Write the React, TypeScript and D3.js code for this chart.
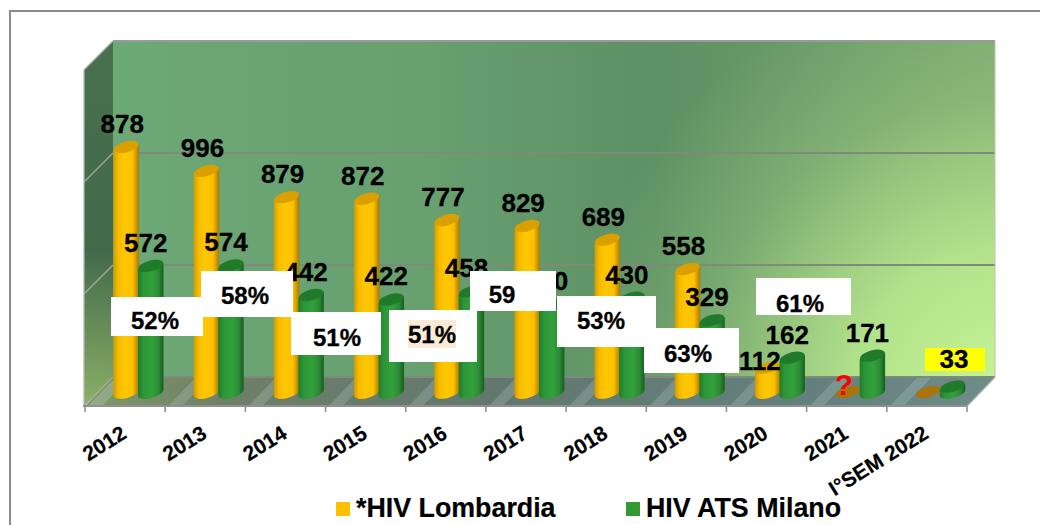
import React from "react";
import * as d3 from "d3";

const categories = ["2012","2013","2014","2015","2016","2017","2018","2019","2020","2021","I°SEM 2022"];
const lombardiaHeights = [1103,996,879,872,777,750,689,558,118,9,9];
const milanoHeights = [572,574,442,422,458,400,430,329,162,171,33];
const lombardiaLabels = ["878","996","879","872","777","829","689","558","112","",""];
const milanoLabels = ["572","574","442","422","458","490","430","329","162","171",""];
const yTicks = [0,500,1000,1500];
const seriesNames = ["*HIV Lombardia","HIV ATS Milano"];
const pctNotes = [
  {t:"52%",x:111,y:297,w:92,h:39},
  {t:"58%",x:201,y:271,w:92,h:46},
  {t:"51%",x:291,y:312,w:90,h:43},
  {t:"51%",x:389,y:310,w:88,h:52,hl:true},
  {t:"59",x:470,y:271,w:86,h:40},
  {t:"53%",x:557,y:296,w:99,h:51},
  {t:"63%",x:644,y:328,w:95,h:45},
  {t:"61%",x:756,y:278,w:95,h:37},
];

const FONT = "'Liberation Sans', Arial, sans-serif";
const depth = { x: 28, y: -29 };
const x = d3.scaleBand<string>().domain(categories).range([85, 967]);
const inner = d3.scaleBand<string>().domain(seriesNames).range([29, 78]);
const y = d3.scaleLinear().domain([0, 1500]).range([394, 58]);
const wallY = d3.scaleLinear().domain([0, 1500]).range([377, 41]);
const colors = [
  { grad: "url(#yel)", top: "#d9a000", flat: "#a8750a" },
  { grad: "url(#grn)", top: "#1f7a2a", flat: "#1f7a2a" },
];
const rx = 12.7, ry = 5.4, tilt = 3.2;

function Cyl({ cx, v, s }: { cx: number; v: number; s: number }) {
  const t = y(v), b = y(0) - 1.5;
  const c = colors[s];
  const rot = -15;
  if (s === 0 && v < 20) {
    return <ellipse cx={cx} cy={t} rx={rx} ry={ry} fill={c.flat} transform={`rotate(${rot} ${cx} ${t})`} />;
  }
  const d = `M${cx - rx},${t + tilt} L${cx - rx},${b + tilt} A${rx},${ry} ${rot} 0 0 ${cx + rx},${b - tilt} L${cx + rx},${t - tilt} Z`;
  return (
    <g>
      <path d={d} fill={c.grad} />
      <ellipse cx={cx} cy={t} rx={rx} ry={ry} fill={c.top} transform={`rotate(${rot} ${cx} ${t})`} />
    </g>
  );
}

export default function App() {
  const x0 = x.range()[0], x1 = x.range()[1];
  const floorTop = wallY(0), floorBot = floorTop - depth.y;
  const backL = x0 + depth.x, backR = x1 + depth.x;
  const labelStyle = { fontFamily: FONT, fontWeight: 700, fontSize: 26, fill: "#000", stroke: "#000", strokeWidth: 0.3, textAnchor: "middle" as const };
  const legendStyle = { fontFamily: FONT, fontWeight: 700, fontSize: 26.8, fill: "#000", stroke: "#000", strokeWidth: 0.2 };
  return (
    <svg width={1040} height={525} style={{ position: "absolute", left: 0, top: 0, background: "#fff" }}>
      <defs>
        <linearGradient id="wall" gradientUnits="userSpaceOnUse" x1={backL} y1={0} x2={backR} y2={0}>
          <stop offset="0" stopColor="#6da877" />
          <stop offset="0.35" stopColor="#68a070" />
          <stop offset="0.62" stopColor="#5d9064" />
          <stop offset="1" stopColor="#7aa76f" />
        </linearGradient>
        <radialGradient id="glow" gradientUnits="userSpaceOnUse" cx={1000} cy={400} r={430}>
          <stop offset="0" stopColor="#c6f695" stopOpacity={1} />
          <stop offset="0.35" stopColor="#c6f695" stopOpacity={0.75} />
          <stop offset="0.7" stopColor="#c6f695" stopOpacity={0.22} />
          <stop offset="1" stopColor="#c6f695" stopOpacity={0} />
        </radialGradient>
        <linearGradient id="lwall" gradientUnits="userSpaceOnUse" x1={113} y1={60} x2={84} y2={406}>
          <stop offset="0" stopColor="#47704f" />
          <stop offset="0.55" stopColor="#426a4a" />
          <stop offset="1" stopColor="#8bb068" />
        </linearGradient>
        <linearGradient id="floor" gradientUnits="userSpaceOnUse" x1={85} y1={0} x2={996} y2={0}>
          <stop offset="0" stopColor="#7f9a68" />
          <stop offset="0.15" stopColor="#6f8068" />
          <stop offset="0.45" stopColor="#62786f" />
          <stop offset="0.8" stopColor="#64807e" />
          <stop offset="1" stopColor="#6e8c88" />
        </linearGradient>
        <linearGradient id="yel" x1="0" y1="0" x2="1" y2="0">
          <stop offset="0" stopColor="#d39a00" />
          <stop offset="0.18" stopColor="#f5bb00" />
          <stop offset="0.45" stopColor="#ffc800" />
          <stop offset="0.75" stopColor="#ffc000" />
          <stop offset="1" stopColor="#a87a00" />
        </linearGradient>
        <linearGradient id="grn" x1="0" y1="0" x2="1" y2="0">
          <stop offset="0" stopColor="#1f7c2a" />
          <stop offset="0.2" stopColor="#2c9636" />
          <stop offset="0.55" stopColor="#33a03c" />
          <stop offset="0.8" stopColor="#2a8c33" />
          <stop offset="1" stopColor="#175c20" />
        </linearGradient>
      </defs>

      <rect x={10} y={11} width={1200} height={700} fill="#fff" stroke="#8c8c8c" strokeWidth={2} />

      {/* back wall, side wall, floor */}
      <rect x={backL} y={wallY(1500)} width={backR - backL} height={floorTop - wallY(1500)} fill="url(#wall)" />
      <rect x={backL} y={wallY(1500)} width={backR - backL} height={floorTop - wallY(1500)} fill="url(#glow)" />
      <polygon points={`${x0 - 1},${wallY(1500) - depth.y} ${backL},${wallY(1500)} ${backL},${floorTop} ${x0 - 1},${floorBot}`} fill="url(#lwall)" />
      <polygon points={`${x0},${floorBot} ${backL},${floorTop} ${backR},${floorTop} ${x1},${floorBot}`} fill="url(#floor)" />
      {categories.map((c, i) => {
        const sx = x(c)! + 3;
        return <polygon key={c} points={`${sx},${floorBot} ${sx + depth.x},${floorTop} ${sx + depth.x + 14},${floorTop} ${sx + 14},${floorBot}`}
          fill="#c0d4d0" opacity={i === 0 ? 0.3 : 0.24} />;
      })}

      {/* grid */}
      {yTicks.map((t) => (
        <g key={t}>
          <line x1={backL} x2={backR} y1={wallY(t)} y2={wallY(t)} stroke={t === 1500 ? "#9a9a9a" : "#7f8a7a"} strokeWidth={2} />
          <line x1={x0 - 1} y1={wallY(t) - depth.y} x2={backL} y2={wallY(t)} stroke="#a4aca0" strokeWidth={1.3} />
        </g>
      ))}
      <line x1={x1} y1={floorBot} x2={backR} y2={floorTop} stroke="#a0a8a0" strokeWidth={1.3} />
      <line x1={x0 - 1} y1={wallY(1500) - depth.y} x2={x0 - 1} y2={floorBot} stroke="#b0b8b0" strokeWidth={1.3} />
      <line x1={backR} y1={wallY(1500)} x2={backR} y2={floorTop} stroke="#b8c8a8" strokeWidth={1} />

      {/* axis */}
      <line x1={x0 - 2} x2={x1} y1={floorBot} y2={floorBot} stroke="#909090" strokeWidth={2} />
      {[...categories.map((c) => x(c)!), x1].map((p) => (
        <line key={p} x1={p} x2={p} y1={floorBot} y2={floorBot + 6} stroke="#909090" strokeWidth={1.6} />
      ))}

      {/* bars */}
      {categories.map((c, i) => (
        <g key={c}>
          <Cyl cx={x(c)! + inner.bandwidth() * 0.5 + inner(seriesNames[0])!} v={lombardiaHeights[i]} s={0} />
          <Cyl cx={x(c)! + inner.bandwidth() * 0.5 + inner(seriesNames[1])!} v={milanoHeights[i]} s={1} />
        </g>
      ))}

      {/* value labels */}
      {categories.map((c, i) => {
        const cxA = x(c)! + inner.bandwidth() * 0.5 + inner(seriesNames[0])!;
        const cxB = x(c)! + inner.bandwidth() * 0.5 + inner(seriesNames[1])!;
        const lowA = lombardiaHeights[i] < 200;
        return (
          <g key={c}>
            <text {...labelStyle} x={cxA - (lowA ? 8 : 4)} y={y(lombardiaHeights[i]) - 14 + (lowA ? 16 : 0)}>{lombardiaLabels[i]}</text>
            <text {...labelStyle} x={cxB - 5} y={y(milanoHeights[i]) - 14}>{milanoLabels[i]}</text>
          </g>
        );
      })}

      {/* annotations */}
      {pctNotes.map((n) => (
        <g key={n.x}>
          <rect x={n.x} y={n.y} width={n.w} height={n.h} fill="#fff" />
          {n.hl && <rect x={408} y={320} width={48} height={28} fill="#faebd7" />}
        </g>
      ))}
      <text {...labelStyle} fontSize={24} x={155} y={329}>52%</text>
      <text {...labelStyle} fontSize={24} x={245} y={304}>58%</text>
      <text {...labelStyle} fontSize={24} x={337} y={346}>51%</text>
      <text {...labelStyle} fontSize={24} x={432} y={343}>51%</text>
      <text {...labelStyle} fontSize={24} x={502} y={303}>59</text>
      <text {...labelStyle} fontSize={24} x={601} y={329}>53%</text>
      <text {...labelStyle} fontSize={24} x={688} y={362}>63%</text>
      <text {...labelStyle} fontSize={24} x={800} y={312}>61%</text>
      <rect x={925} y={348} width={60} height={23} fill="#ffff00" />
      <text {...labelStyle} x={954} y={368}>33</text>
      <text x={844} y={395} fontFamily={FONT} fontWeight={700} fontSize={30} fill="#ff0000" textAnchor="middle">?</text>

      {/* category labels */}
      {categories.map((c) => {
        const ax = x(c)! + 43, ay = 437;
        return <text key={c} transform={`translate(${ax},${ay}) rotate(-32)`} textAnchor="end" fontFamily={FONT} fontWeight={700} fontSize={21} fill="#000" stroke="#000" strokeWidth={0.2}>{c}</text>;
      })}

      {/* legend */}
      <rect x={336} y={502} width={14} height={14} fill="#ffc000" />
      <text {...legendStyle} x={356} y={517}>{seriesNames[0]}</text>
      <rect x={626} y={502} width={14} height={14} fill="#339933" />
      <text {...legendStyle} x={646} y={517}>{seriesNames[1]}</text>
    </svg>
  );
}
